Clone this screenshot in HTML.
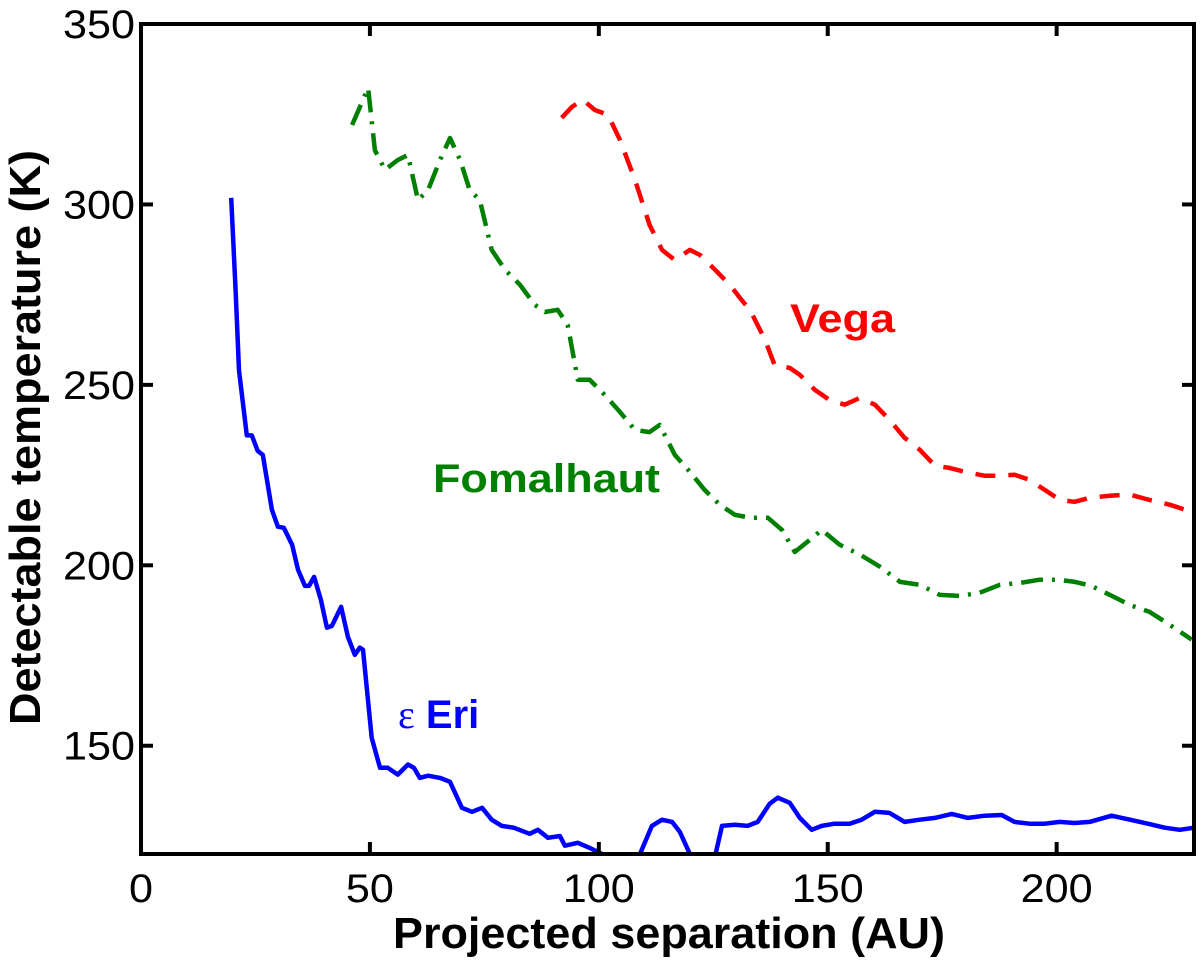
<!DOCTYPE html>
<html><head><meta charset="utf-8"><style>
body{margin:0;background:#fff;}
svg{display:block;font-family:"Liberation Sans",Arial,sans-serif;}
</style></head><body>
<svg id="chart" width="1200" height="962" viewBox="0 0 1200 962" xmlns="http://www.w3.org/2000/svg">
<defs><clipPath id="plotclip"><rect x="141" y="24" width="1053" height="830"/></clipPath></defs>
<g id="marks" clip-path="url(#plotclip)"></g>
<g id="axes"></g>
<text x="790" y="332" font-size="40" font-weight="bold" fill="#ff0000" textLength="105" lengthAdjust="spacingAndGlyphs">Vega</text>
<text x="433" y="492" font-size="40" font-weight="bold" fill="#008000" textLength="227" lengthAdjust="spacingAndGlyphs">Fomalhaut</text>
<text x="398" y="728" font-size="40" font-weight="bold" fill="#0000ff"><tspan font-family="Liberation Serif,serif" font-weight="normal">ε</tspan> Eri</text>
<text x="393" y="948" font-size="44" font-weight="bold" textLength="552" lengthAdjust="spacingAndGlyphs">Projected separation (AU)</text>
<text transform="translate(40,725) rotate(-90)" x="0" y="0" font-size="44" font-weight="bold" textLength="575" lengthAdjust="spacingAndGlyphs">Detectable temperature (K)</text>
</svg>
<script>
const xTicks=[0,50,100,150,200];
const yTicks=[150,200,250,300,350];
const eriX=[19.7,20.7,21.4,23.1,24.2,25.5,26.6,28.6,29.9,31.2,33,34.3,35.8,36.7,37.8,39.3,40.6,41.7,43.7,45.2,46.7,47.8,48.5,50.4,52.2,53.9,56.1,58.3,59.6,60.9,62.7,65.3,67.5,70.1,72.3,74.5,76.6,78.8,81.4,84.9,86.7,88.9,91.5,92.6,95.4,98,100.7,null,109,111.6,113.8,116,117.7,119.9,null,125.5,126.9,129.7,132.5,134.7,137.3,139.1,141.7,143.9,146.5,148.7,151.5,154.8,157.4,160.3,163.5,166.8,170.1,173.4,177.1,180.6,184.3,188,190.8,194.1,197.4,200.7,203.9,207.2,212,216,219.9,223.6,226.9,230];
const eriY=[301.8,275,254,236,236,231.7,230.6,215.4,210.7,210.4,205.7,198.8,194.3,194.3,196.8,190.4,182.7,183.2,188.5,180.2,175.2,177.2,176.6,152.2,143.9,143.9,142,144.8,143.9,141.1,141.7,141.1,140,132.8,131.7,132.8,129.5,127.8,127.3,125.6,126.7,124.5,125,122.3,123.1,121.7,120,null,120,127.8,129.5,128.9,126.1,120,null,120,127.8,128.1,127.8,128.9,133.9,135.6,134.2,130,126.7,127.8,128.4,128.4,129.5,131.7,131.4,128.9,129.5,130,131.1,130,130.6,130.8,128.9,128.4,128.4,128.9,128.6,128.9,130.6,129.5,128.4,127.3,126.7,127.3];
const fomX=[46.1,49.6,51.1,53.3,56.1,58.3,60.5,62.7,65.3,67.5,69.7,71.8,74,76.6,79.5,82.8,86,88.2,91,93.2,95.4,98,101.3,104.6,107.9,111.1,113.3,116.6,119.9,123.1,126.4,129.7,133,136.9,140,142.8,146.1,148.7,152.6,157,161.4,165.8,170.1,174.5,179,183.2,187.6,191.9,196.3,200.2,204,207.6,211.6,216,220.3,224.7,229.5];
const fomY=[322,332.3,315,309.6,312.3,313.7,301.2,304,312.3,318.4,312.3,304,301.2,287.4,281.9,277.7,272.2,270.2,270.8,266.6,251.4,251.4,247.2,242.5,237.5,236.9,238.9,230.6,225.9,220.9,216.8,214,213.2,213.2,209.8,203.7,207.1,209.8,205.7,203,199.6,195.4,194.6,191.8,191.5,192.4,194.6,195.1,196,196,195.4,194.3,191.8,189,187.1,183.5,179.4];
const vegaX=[91.9,94.1,96.5,99.1,102,104.6,107.9,111.1,113.8,116.6,119.9,122.1,125.4,128.6,131.2,133,136.3,138.4,141.7,143.9,147.2,150.4,153.7,157,160.3,163.5,166.8,170.1,173.4,176.6,179.9,184.3,187.6,190.8,194.1,197.4,200.7,203.9,207.2,211.6,216,220.3,224.7,229.5];
const vegaY=[324,327,329,326.2,324.8,317.9,306.8,294.3,287.4,284.6,287.4,286,281.9,277.7,273.5,270.8,262.5,255.5,254.7,252.8,248.6,245.8,244.5,246.4,244.5,240.3,235.3,232,227.6,227,225.9,224.8,224.8,225.1,223.7,220.9,218.1,217.6,218.7,219.3,219.6,218.1,216.8,214.8];
const L=141,R=1194,T=24,B=854,X0=0,X1=230,Y0=120,Y1=350;
function sx(v){return L+(v-X0)/(X1-X0)*(R-L);}
function sy(v){return B-(v-Y0)/(Y1-Y0)*(B-T);}
const NS="http://www.w3.org/2000/svg";
function pathD(xs,ys){let d="",pen=false;for(let i=0;i<xs.length;i++){if(xs[i]===null||ys[i]===null){pen=false;continue;}d+=(pen?"L":"M")+sx(xs[i]).toFixed(1)+","+sy(ys[i]).toFixed(1);pen=true;}return d;}
const marks=document.getElementById("marks");
function addLine(xs,ys,color,dash,name){const p=document.createElementNS(NS,"path");p.setAttribute("d",pathD(xs,ys));p.setAttribute("fill","none");p.setAttribute("stroke",color);p.setAttribute("stroke-width","4.5");p.setAttribute("stroke-linejoin","round");if(dash)p.setAttribute("stroke-dasharray",dash);


marks.appendChild(p);}
addLine(eriX,eriY,"#0000ff",null,"eps-eri-line");
addLine(fomX,fomY,"#008000","22,9,3,9","fomalhaut-line");
addLine(vegaX,vegaY,"#ff0000","20,13","vega-line");
const axes=document.getElementById("axes");
const box=document.createElementNS(NS,"rect");box.setAttribute("x",L);box.setAttribute("y",T);box.setAttribute("width",R-L);box.setAttribute("height",B-T);box.setAttribute("fill","none");box.setAttribute("stroke","#000");box.setAttribute("stroke-width","4");


axes.appendChild(box);
function ln(x1,y1,x2,y2){const l=document.createElementNS(NS,"line");l.setAttribute("x1",x1);l.setAttribute("y1",y1);l.setAttribute("x2",x2);l.setAttribute("y2",y2);l.setAttribute("stroke","#000");l.setAttribute("stroke-width","4");axes.appendChild(l);return l;}
function tx(x,y,s,anchor,name){const t=document.createElementNS(NS,"text");t.setAttribute("x",x);t.setAttribute("y",y);t.setAttribute("font-size","40");t.setAttribute("text-anchor",anchor);t.setAttribute("textLength",String(24*s.length));t.setAttribute("lengthAdjust","spacingAndGlyphs");t.textContent=s;


axes.appendChild(t);}
xTicks.forEach(v=>{const x=sx(v);
const a=ln(x,B,x,B-12);
const b=ln(x,T,x,T+12);
tx(x,902,String(v),"middle","x-tick-label");});
yTicks.forEach(v=>{const y=sy(v);
const a=ln(L,y,L+12,y);
const b=ln(R,y,R-12,y);
tx(135,y+14,String(v),"end","y-tick-label");});
</script>
</body></html>
